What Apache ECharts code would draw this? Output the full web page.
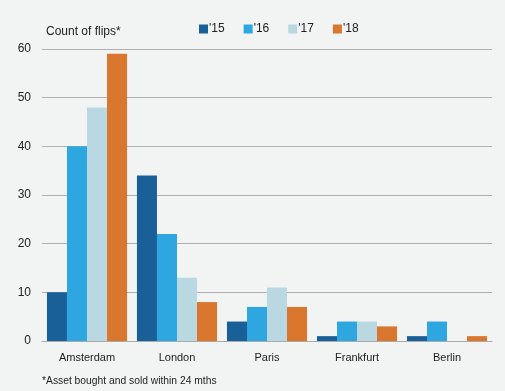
<!DOCTYPE html>
<html><head><meta charset="utf-8">
<script src="https://cdn.jsdelivr.net/npm/echarts@6/dist/echarts.min.js"></script>
<style>html,body{margin:0;padding:0;background:#f2f4f3}#c{width:505px;height:391px}</style>
</head><body><div id="c"></div>
<script>
const categories = ['Amsterdam','London','Paris','Frankfurt','Berlin'];
const seriesNames = ["'15","'16","'17","'18"];
const v15 = [10, 34, 4, 1, 1];
const v16 = [40, 22, 7, 4, 4];
const v17 = [48, 13, 11, 4, 0];
const v18 = [59, 8, 7, 3, 1];
const colors = ['#1a6098','#2ea6e0','#b9d8e2','#d9772e'];
const values = [v15, v16, v17, v18];
const font = '"Liberation Sans", Arial, sans-serif';
const chart = echarts.init(document.getElementById('c'), null, {renderer:'canvas'});
chart.setOption({
  backgroundColor:'#f2f4f3',
  animation:false,
  textStyle:{fontFamily:font},
  grid:{left:42, right:13, top:49, bottom:50},
  title:[
    {text:'Count of flips*', left:41, top:21, textStyle:{fontSize:12, fontWeight:'normal', color:'#222', fontFamily:font}},
    {text:'*Asset bought and sold within 24 mths', left:37, top:371, textStyle:{fontSize:10.3, fontWeight:'normal', color:'#222', fontFamily:font}}
  ],
  legend:{left:194, top:18, itemWidth:9, itemHeight:9, itemGap:19, icon:'rect',
    textStyle:{fontSize:12, color:'#222', fontFamily:font, padding:[0,0,0,-4]},
    data:seriesNames},
  xAxis:{type:'category', data:categories,
    axisLine:{lineStyle:{color:'#aaa', width:1}}, axisTick:{show:false},
    axisLabel:{fontSize:11, color:'#222', margin:11, fontFamily:font}},
  yAxis:{type:'value', min:0, max:60, interval:10,
    axisLine:{show:false}, axisTick:{show:false},
    splitLine:{lineStyle:{color:'#b0b0b0', width:1}},
    axisLabel:{fontSize:12, color:'#222', margin:11, fontFamily:font, padding:[3,0,0,0]}},
  series: seriesNames.map((n,i)=>({
    name:n, type:'bar', data:values[i], barGap:'0%', barCategoryGap:'11%',
    itemStyle:{color:colors[i]}
  }))
});
</script></body></html>
